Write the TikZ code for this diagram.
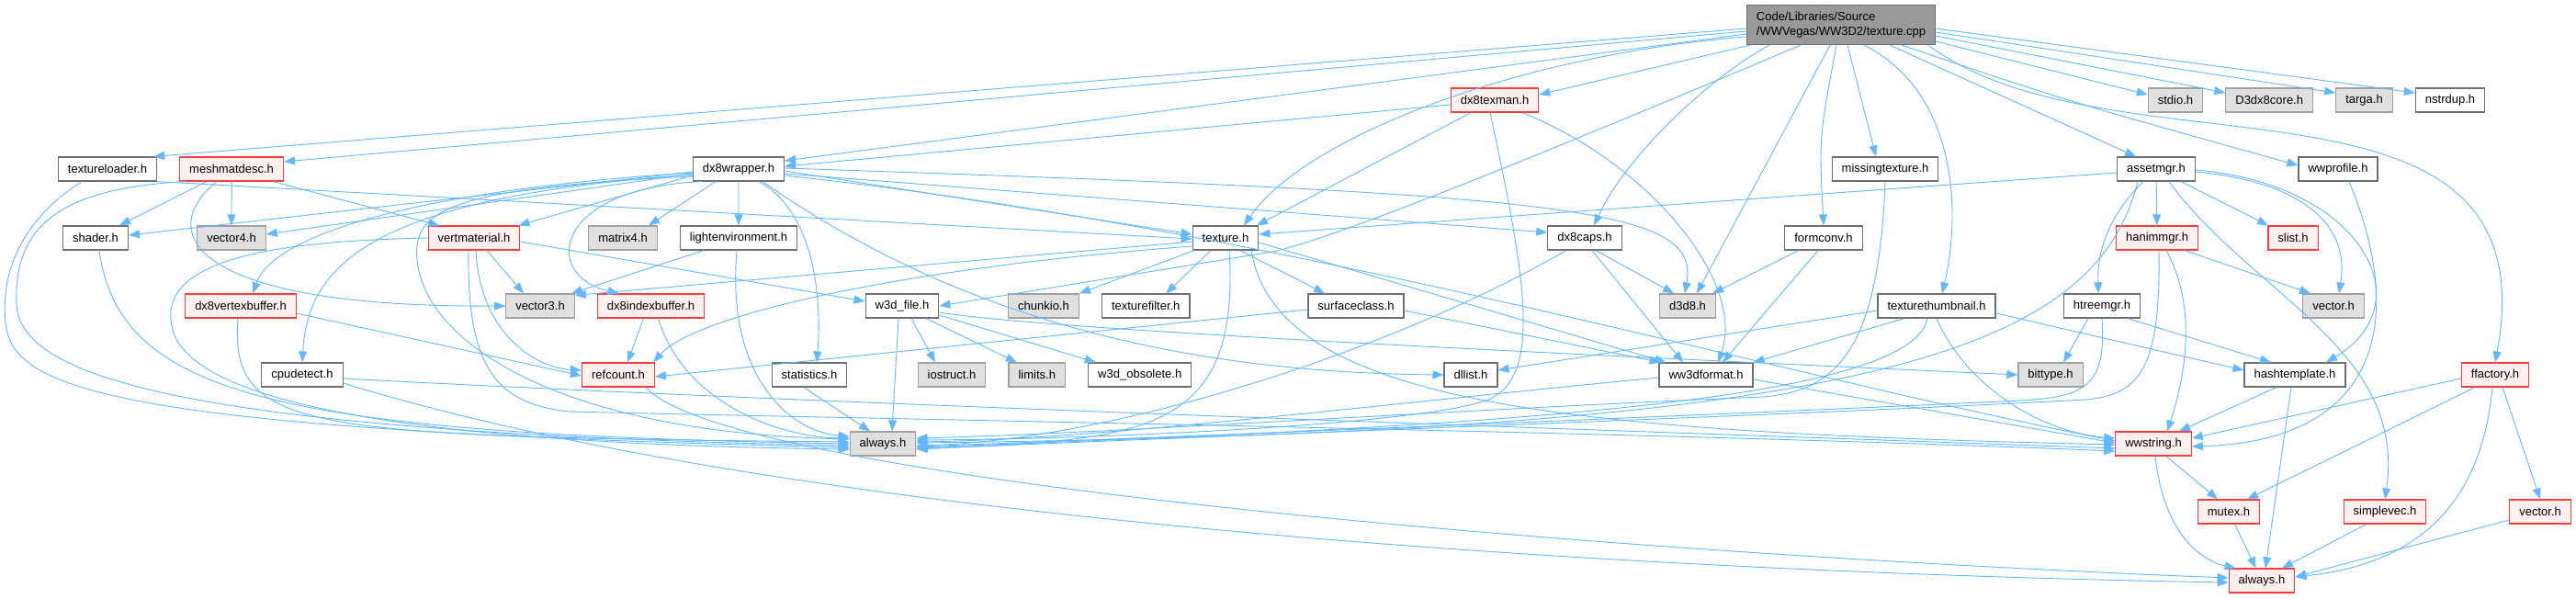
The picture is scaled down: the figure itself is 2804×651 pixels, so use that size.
\documentclass[tikz,border=0pt]{standalone}
\usepackage{fontspec}
\setmainfont{Liberation Sans}
\usetikzlibrary{positioning,arrows.meta}
\definecolor{edg}{RGB}{99,184,255}
\definecolor{frm}{RGB}{110,110,110}
\definecolor{xfil}{RGB}{224,224,224}
\definecolor{xfrm}{RGB}{160,160,160}
\definecolor{tfil}{RGB}{255,240,240}
\definecolor{tfrm}{RGB}{255,60,60}
\definecolor{rfil}{RGB}{153,153,153}
\begin{document}
\begin{tikzpicture}[x=1pt,y=-1pt,font=\fontsize{13}{16}\selectfont,>={Triangle[length=12pt,width=9pt]},node distance=24pt,
  hdrs/.style={draw=frm,fill=white,line width=1.2pt,minimum height=26pt,inner xsep=10.5pt,inner ysep=0pt},
  exts/.style={hdrs,draw=xfrm,fill=xfil},
  trns/.style={hdrs,draw=tfrm,fill=tfil},
  roots/.style={hdrs,draw=frm,fill=rfil,align=left,minimum height=43pt},
  dep/.style={->,draw=edg,line width=0.9pt}]
  \fill[white] (0,0) rectangle (2804,651);
  \useasboundingbox (0,0) rectangle (2804,651);
  \node[roots] (tc) at (2004,27) {Code/Libraries/Source\\/WWVegas/WW3D2/texture.cpp};
  \node[exts] (stdio) at (2368,109) {stdio.h};
  \node[exts,right=of stdio] (d3dx) {D3dx8core.h};
  \node[exts,right=of d3dx] (tga) {targa.h};
  \node[hdrs,right=of tga] (nsd) {nstrdup.h};
  \node[trns] (dtm) at (1627,109) {dx8texman.h};
  \node[hdrs] (tldr) at (117,184) {textureloader.h};
  \node[trns,right=of tldr] (mmd) {meshmatdesc.h};
  \node[hdrs] (dxw) at (804,184) {dx8wrapper.h};
  \node[hdrs] (misst) at (2052,184) {missingtexture.h};
  \node[hdrs] (amg) at (2347,184) {assetmgr.h};
  \node[hdrs] (wwp) at (2545,184) {wwprofile.h};
  \node[hdrs] (shd) at (104,259) {shader.h};
  \node[exts] (v4) at (252,259) {vector4.h};
  \node[trns] (vmt) at (516,259) {vertmaterial.h};
  \node[exts] (m4) at (678,259) {matrix4.h};
  \node[hdrs,right=of m4] (lenv) {lightenvironment.h};
  \node[hdrs] (txh) at (1334,259) {texture.h};
  \node[hdrs] (caps) at (1725,259) {dx8caps.h};
  \node[hdrs] (fcv) at (1985,259) {formconv.h};
  \node[trns] (ham) at (2348,259) {hanimmgr.h};
  \node[trns] (sl) at (2496,259) {slist.h};
  \node[trns] (vbuf) at (262,333) {dx8vertexbuffer.h};
  \node[exts] (v3) at (588,333) {vector3.h};
  \node[trns,right=of v3] (ibuf) {dx8indexbuffer.h};
  \node[hdrs] (w3f) at (982,333) {w3d\_file.h};
  \node[exts] (chk) at (1136,333) {chunkio.h};
  \node[hdrs,right=of chk] (tfl) {texturefilter.h};
  \node[hdrs] (surf) at (1476,333) {surfaceclass.h};
  \node[exts] (d3d) at (1837,333) {d3d8.h};
  \node[hdrs] (ttn) at (2108,333) {texturethumbnail.h};
  \node[hdrs] (htm) at (2288,333) {htreemgr.h};
  \node[exts] (vec) at (2540,333) {vector.h};
  \node[hdrs] (cpu) at (329,408) {cpudetect.h};
  \node[trns] (rc) at (673,408) {refcount.h};
  \node[hdrs] (stat) at (881,408) {statistics.h};
  \node[exts] (ios) at (1036,408) {iostruct.h};
  \node[exts,right=of ios] (lim) {limits.h};
  \node[hdrs,right=of lim] (wobs) {w3d\_obsolete.h};
  \node[hdrs] (dll) at (1601,408) {dllist.h};
  \node[hdrs] (fmt) at (1857,408) {ww3dformat.h};
  \node[exts] (bt) at (2232,408) {bittype.h};
  \node[hdrs] (hsh) at (2498,408) {hashtemplate.h};
  \node[trns] (ffa) at (2716,408) {ffactory.h};
  \node[exts] (alw) at (961,483) {always.h};
  \node[trns] (wws) at (2344,483) {wwstring.h};
  \node[trns] (mutx) at (2426,557) {mutex.h};
  \node[trns] (svec) at (2596,557) {simplevec.h};
  \node[trns] (vecr) at (2765,557) {vector.h};
  \node[trns] (alwr) at (2462,632) {always.h};

  \draw[dep] ([yshift=-4pt]tc.west) -- ([xshift=-4pt]tldr.north east);
  \draw[dep] ([yshift=-7pt]tc.west) -- ([yshift=8pt]mmd.east);
  \draw[dep] ([yshift=-10pt]tc.west) -- ([yshift=9pt]dxw.east);
  \draw[dep] ([yshift=-13pt]tc.west) .. controls (1650,60) and (1420,150) .. ([xshift=20pt]txh.north);
  \draw[dep] ([xshift=-99pt]tc.south) -- ([yshift=6pt]dtm.east);
  \draw[dep] ([xshift=-78pt]tc.south) .. controls (1860,85) and (1770,170) .. ([xshift=10pt]caps.north);
  \draw[dep] ([xshift=-44pt]tc.south) .. controls (1650,180) and (1450,260) .. (1385,274) -- (w3f.east);
  \draw[dep] ([xshift=-12pt]tc.south) -- ([xshift=10pt]d3d.north);
  \draw[dep] ([xshift=-5pt]tc.south) .. controls (1980,150) .. (fcv.north);
  \draw[dep] ([xshift=7pt]tc.south) -- ([xshift=-10pt]misst.north);
  \draw[dep] ([xshift=25pt]tc.south) .. controls (2130,100) and (2135,230) .. ([xshift=6pt]ttn.north);
  \draw[dep] ([xshift=53pt]tc.south) -- ([xshift=-22pt]amg.north);
  \draw[dep] ([xshift=66pt]tc.south) .. controls (2250,110) .. ([yshift=4pt]wwp.west);
  \draw[dep] ([xshift=95pt]tc.south) .. controls (2300,200) and (2780,50) .. (ffa.north);
  \draw[dep] ([yshift=-18pt]tc.east) -- ([yshift=6pt]stdio.west);
  \draw[dep] ([yshift=-12pt]tc.east) -- ([yshift=8pt]d3dx.west);
  \draw[dep] ([yshift=-8pt]tc.east) -- ([yshift=8pt]tga.west);
  \draw[dep] ([yshift=-4pt]tc.east) -- ([yshift=8pt]nsd.west);

  \draw[dep] ([yshift=-5pt]dtm.west) -- ([yshift=3pt]dxw.east);
  \draw[dep] ([xshift=-26pt]dtm.south) -- ([xshift=34pt]txh.north);
  \draw[dep] ([xshift=30pt]dtm.south) .. controls (1800,180) and (1900,310) .. ([xshift=13pt]fmt.north);
  \draw[dep] ([xshift=-5pt]dtm.south) .. controls (1660,300) and (1680,410) .. (1620,435) .. controls (1550,462) and (1200,478) .. ([yshift=4pt]alw.east);

  \draw[dep] ([yshift=-3pt]dxw.west) -- ([yshift=3pt]shd.east);
  \draw[dep] ([yshift=-5pt]dxw.west) -- ([yshift=4pt]v4.east);
  \draw[dep] ([yshift=-7pt]dxw.west) -- ([xshift=-2pt]vmt.north east);
  \draw[dep] ([yshift=-4pt]dxw.west) .. controls (480,205) and (300,250) .. ([xshift=13pt]vbuf.north);
  \draw[dep] ([yshift=-6pt]dxw.west) .. controls (400,215) and (335,290) .. (cpu.north);
  \draw[dep] ([yshift=-8pt]dxw.west) .. controls (480,205) and (445,230) .. (455,290) .. controls (468,370) and (600,470) .. ([yshift=5pt]alw.west);
  \draw[dep] ([xshift=-25pt]dxw.south) -- ([xshift=28pt]m4.north);
  \draw[dep] (dxw) -- (lenv);
  \draw[dep] ([xshift=-40pt]dxw.south) .. controls (600,205) and (590,300) .. ([xshift=-35pt]ibuf.north);
  \draw[dep] ([xshift=22pt]dxw.south) .. controls (885,230) and (895,320) .. ([xshift=8pt]stat.north);
  \draw[dep] ([xshift=26pt]dxw.south) .. controls (1020,330) and (1250,405) .. (dll.west);
  \draw[dep] ([yshift=-2pt]dxw.east) -- ([yshift=4pt]txh.west);
  \draw[dep] ([yshift=-5pt]dxw.east) -- ([yshift=6pt]caps.west);
  \draw[dep] ([yshift=1pt]dxw.east) .. controls (1720,212) and (1850,226) .. ([xshift=-3pt]d3d.north);
  \draw[dep] ([yshift=-7pt]dxw.east) .. controls (1400,250) and (1900,400) .. ([yshift=3pt]wws.west);

  \draw[dep] (tldr.south east) -- ([yshift=-1pt]txh.west);
  \draw[dep] ([xshift=-28pt]tldr.south) .. controls (30,235) and (0,290) .. (6,350) .. controls (12,420) and (100,468) .. ([yshift=-4pt]alw.west);
  \draw[dep] ([xshift=-27pt]mmd.south) -- ([xshift=-10pt]shd.north east);
  \draw[dep] (mmd) -- (v4);
  \draw[dep] ([xshift=45pt]mmd.south) -- ([xshift=-38pt]vmt.north);
  \draw[dep] ([xshift=-16pt]mmd.south) .. controls (170,250) and (200,335) .. (v3.west);
  \draw[dep] ([xshift=-50pt]mmd.south) .. controls (60,205) and (15,250) .. (18,330) .. controls (20,400) and (150,470) .. ([yshift=-2pt]alw.west);
  \draw[dep] ([xshift=4pt]shd.south) .. controls (130,430) and (300,472) .. (alw.west);

  \draw[dep] ([xshift=14pt]vmt.south) -- ([xshift=-18pt]v3.north);
  \draw[dep] ([xshift=2pt]vmt.south) .. controls (522,360) and (580,400) .. ([yshift=5pt]rc.west);
  \draw[dep] ([yshift=-4pt]vmt.east) -- ([yshift=5pt]w3f.west);
  \draw[dep] (vmt.west) .. controls (330,262) and (190,275) .. (186,340) .. controls (183,390) and (230,480) .. ([yshift=-6pt]alw.west);
  \draw[dep] ([xshift=-6pt]vmt.south) .. controls (508,400) and (540,440) .. (620,448) .. controls (900,455) and (1800,470) .. ([yshift=-8pt]wws.west);
  \draw[dep] ([xshift=-3pt]vbuf.south) .. controls (250,470) and (330,475) .. ([yshift=2pt]alw.west);
  \draw[dep] ([yshift=-8pt]vbuf.east) -- ([yshift=-1pt]rc.west);
  \draw[dep] ([xshift=-8pt]ibuf.south) -- ([xshift=10pt]rc.north);
  \draw[dep] ([xshift=8pt]ibuf.south) .. controls (745,440) and (850,476) .. ([yshift=6pt]alw.west);
  \draw[dep] ([xshift=-38pt]lenv.south) -- ([xshift=-4pt]v3.north east);
  \draw[dep] ([xshift=-2pt]lenv.south) .. controls (790,410) and (860,470) .. ([yshift=8pt]alw.west);
  \draw[dep] ([xshift=-6pt]stat.south) -- ([xshift=-14pt]alw.north);

  \draw[dep] ([xshift=-34pt]txh.south) -- (chk.north east);
  \draw[dep] ([xshift=-16pt]txh.south) -- ([xshift=22pt]tfl.north);
  \draw[dep] ([yshift=-4pt]txh.west) -- ([yshift=-2pt]v3.north east);
  \draw[dep] ([yshift=-9pt]txh.west) .. controls (1000,290) and (760,340) .. ([xshift=-2pt]rc.north east);
  \draw[dep] ([xshift=16pt]txh.south) -- ([xshift=-34pt]surf.north);
  \draw[dep] ([yshift=-5pt]txh.east) -- ([xshift=8pt]fmt.north west);
  \draw[dep] ([xshift=4pt]txh.south) .. controls (1350,470) and (1250,480) .. ([yshift=-5pt]alw.east);
  \draw[dep] ([xshift=28pt]txh.south) .. controls (1390,440) and (1700,470) .. ([yshift=-1pt]wws.west);

  \draw[dep] ([xshift=-4pt]w3f.south) -- ([xshift=10pt]alw.north);
  \draw[dep] ([xshift=10pt]w3f.south) -- ([xshift=-18pt]ios.north);
  \draw[dep] ([xshift=26pt]w3f.south) -- ([xshift=-22pt]lim.north);
  \draw[dep] ([yshift=-10pt]w3f.east) -- ([xshift=-48pt]wobs.north);
  \draw[dep] ([yshift=-7pt]w3f.east) .. controls (1150,360) and (1700,385) .. (bt.west);
  \draw[dep] ([yshift=-5pt]surf.east) -- ([xshift=2pt]fmt.north west);
  \draw[dep] ([yshift=-4pt]surf.west) -- ([yshift=-2pt]rc.east);

  \draw[dep] ([xshift=12pt]caps.south) -- ([xshift=-15pt]d3d.north);
  \draw[dep] ([xshift=8pt]caps.south) -- ([xshift=-25pt]fmt.north);
  \draw[dep] ([xshift=-20pt]caps.south) .. controls (1500,390) and (1200,480) .. ([yshift=-2pt]alw.east);
  \draw[dep] (fcv) -- (d3d);
  \draw[dep] ([xshift=-6pt]fcv.south) -- ([xshift=18pt]fmt.north);
  \draw[dep] (misst.south) .. controls (2045,380) and (2000,425) .. (1920,432) .. controls (1600,445) and (1200,472) .. ([yshift=6pt]alw.east);
  \draw[dep] ([yshift=-3pt]fmt.west) .. controls (1500,440) and (1200,478) .. ([yshift=2pt]alw.east);
  \draw[dep] ([yshift=-5pt]fmt.east) -- ([yshift=1pt]wws.west);

  \draw[dep] ([yshift=-5pt]ttn.west) -- ([yshift=5pt]dll.east);
  \draw[dep] ([xshift=-35pt]ttn.south) -- (fmt.north east);
  \draw[dep] ([xshift=-10pt]ttn.south) .. controls (2080,440) and (1600,465) .. ([yshift=-4pt]alw.east);
  \draw[dep] (ttn.south) .. controls (2140,420) and (2220,470) .. ([yshift=6pt]wws.west);
  \draw[dep] ([yshift=-8pt]ttn.east) -- ([yshift=5pt]hsh.west);

  \draw[dep] ([yshift=-4pt]amg.west) -- ([yshift=4pt]txh.east);
  \draw[dep] ([xshift=-20pt]amg.south) .. controls (2280,380) and (2050,470) .. ([yshift=1pt]alw.east);
  \draw[dep] ([xshift=-14pt]amg.south) .. controls (2290,240) and (2283,280) .. ([xshift=-4pt]htm.north);
  \draw[dep] (amg) -- (ham);
  \draw[dep] (amg) -- (sl);
  \draw[dep] ([xshift=14pt]amg.south) .. controls (2450,320) and (2620,380) .. (svec.north);
  \draw[dep] ([yshift=-3pt]amg.east) .. controls (2480,195) and (2560,230) .. ([xshift=6pt]vec.north);
  \draw[dep] ([yshift=-1pt]amg.east) .. controls (2570,200) and (2640,330) .. ([xshift=34pt]hsh.north);
  \draw[dep] ([xshift=12pt]wwp.south) .. controls (2620,350) and (2590,480) .. ([yshift=-3pt]wws.east);

  \draw[dep] ([xshift=30pt]ham.south) -- ([xshift=-25pt]vec.north);
  \draw[dep] ([xshift=10pt]ham.south) .. controls (2395,340) and (2375,420) .. ([xshift=15pt]wws.north);
  \draw[dep] ([xshift=2pt]ham.south) .. controls (2352,400) and (2330,430) .. (2270,435) .. controls (2000,450) and (1300,475) .. ([yshift=-6pt]alw.east);
  \draw[dep] ([xshift=-15pt]htm.south) -- ([xshift=14pt]bt.north);
  \draw[dep] ([xshift=28pt]htm.south) -- ([xshift=-26pt]hsh.north);
  \draw[dep] (htm.south) .. controls (2293,420) and (2270,432) .. (2200,436) .. controls (1900,450) and (1300,475) .. ([yshift=-3pt]alw.east);
  \draw[dep] ([xshift=-20pt]hsh.south) -- ([xshift=28pt]wws.north);
  \draw[dep] ([xshift=-4pt]hsh.south) -- ([xshift=4pt]alwr.north);

  \draw[dep] ([yshift=-4pt]ffa.west) -- ([yshift=6pt]wws.east);
  \draw[dep] ([xshift=-22pt]ffa.south) -- ([xshift=20pt]mutx.north);
  \draw[dep] ([xshift=-3pt]ffa.south) .. controls (2700,560) and (2620,615) .. ([yshift=4pt]alwr.east);
  \draw[dep] ([xshift=8pt]ffa.south) -- (vecr.north);
  \draw[dep] ([xshift=14pt]wws.south) -- ([xshift=-12pt]mutx.north);
  \draw[dep] ([xshift=2pt]wws.south) .. controls (2355,580) and (2395,610) .. ([xshift=8pt]alwr.north west);
  \draw[dep] (mutx) -- (alwr);
  \draw[dep] ([xshift=-20pt]svec.south) -- ([xshift=22pt]alwr.north);
  \draw[dep] ([yshift=-9pt]vecr.west) -- ([yshift=4pt]alwr.east);

  \draw[dep] ([yshift=-4pt]cpu.east) .. controls (900,440) and (1800,470) .. ([yshift=-5pt]wws.west);
  \draw[dep] ([yshift=-9pt]cpu.east) .. controls (900,580) and (1900,625) .. ([yshift=-2pt]alwr.west);
  \draw[dep] ([xshift=30pt]rc.south) .. controls (790,520) and (1700,600) .. ([yshift=3pt]alwr.west);
\end{tikzpicture}
\end{document}
